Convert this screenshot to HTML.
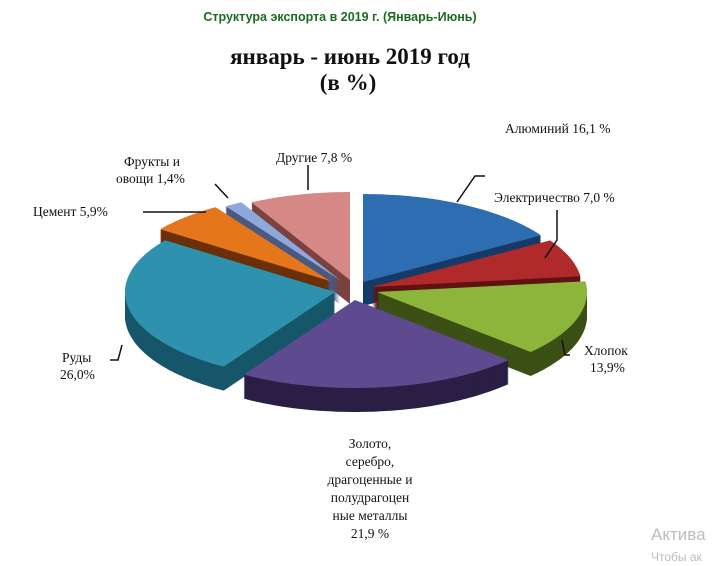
<!DOCTYPE html>
<html><head><meta charset="utf-8"><style>
body{margin:0;background:#fff;width:714px;height:566px;overflow:hidden;}
svg{display:block}
.l{font-family:"Liberation Serif",serif;font-size:13.5px;fill:#111}
</style></head><body>
<svg id="s" width="714" height="566" xmlns="http://www.w3.org/2000/svg">
<text x="340" y="21" text-anchor="middle" font-family="Liberation Sans, sans-serif" font-weight="bold" font-size="12.5" fill="#1d6b22">Структура экспорта в 2019 г. (Январь-Июнь)</text>
<text x="350" y="64" text-anchor="middle" font-family="Liberation Serif, serif" font-weight="bold" font-size="23" fill="#111">январь - июнь 2019 год</text>
<text x="348" y="90" text-anchor="middle" font-family="Liberation Serif, serif" font-weight="bold" font-size="23" fill="#111">(в %)</text>
<g id="pie"></g>
<g stroke="#111" stroke-width="1.5" fill="none">
<polyline points="485,176 475,176 457,202"/>
<polyline points="557,210 557,240 545,258"/>
<polyline points="570,355 565,355 562,340"/>
<polyline points="110,360 118,360 122,345"/>
<polyline points="143,212 206,212"/>
<polyline points="215,184 228,198"/>
<polyline points="308,165 308,190"/>
</g>
<text class="l" x="505" y="133">Алюминий 16,1 %</text>
<text class="l" x="494" y="202">Электричество 7,0 %</text>
<text class="l" x="584" y="355">Хлопок</text>
<text class="l" x="590" y="372">13,9%</text>
<text class="l" x="62" y="362">Руды</text>
<text class="l" x="60" y="379">26,0%</text>
<text class="l" x="33" y="216">Цемент 5,9%</text>
<text class="l" x="124" y="166">Фрукты и</text>
<text class="l" x="116" y="183">овощи 1,4%</text>
<text class="l" x="276" y="162">Другие 7,8 %</text>
<text class="l" x="370" y="448" text-anchor="middle">Золото,</text>
<text class="l" x="370" y="466" text-anchor="middle">серебро,</text>
<text class="l" x="370" y="484" text-anchor="middle">драгоценные и</text>
<text class="l" x="370" y="502" text-anchor="middle">полудрагоцен</text>
<text class="l" x="370" y="520" text-anchor="middle">ные металлы</text>
<text class="l" x="370" y="538" text-anchor="middle">21,9 %</text>
<text x="651" y="540" font-family="Liberation Sans, sans-serif" font-size="17" fill="#bdbdbd">Актива</text>
<text x="651" y="561" font-family="Liberation Sans, sans-serif" font-size="12" fill="#bdbdbd">Чтобы ак</text>
</svg>
<script>
var rx=210,ry=88,D=24;
var sl=[
["alu",0,58,363,282,"#2f6db3","#173b68"],
["other",332,360,350,280,"#d68886","#7a4240"],
["fruit",327,332,340,280,"#8ea8dc","#4a5a80"],
["cement",306,327,330,281,"#e6761c","#6b3008"],
["elec",58,83,372,287,"#b02a2c","#5e1212"],
["ores",212,306,335,292,"#2e92ae","#17566a"],
["cotton",83,133,377,292,"#8db53c","#3b5015"],
["gold",133,212,355,300,"#5e4a8e","#2a1e45"]];
function path(s,dy){var a0=s[1],a1=s[2],cx=s[3],cy=s[4]+dy;var p="M"+cx+","+cy;
for(var a=a0;a<=a1+0.001;a+=1){var r=a*Math.PI/180;p+=" L"+(cx+rx*Math.sin(r)).toFixed(1)+","+(cy-ry*Math.cos(r)).toFixed(1);}
return p+"Z";}
var h="";
sl.forEach(function(s){for(var d=D;d>0;d-=1)h+='<path d="'+path(s,d)+'" fill="'+s[6]+'"/>';
h+='<path d="'+path(s,0)+'" fill="'+s[5]+'"/>';});
document.getElementById("pie").innerHTML=h;
</script>
</body></html>
